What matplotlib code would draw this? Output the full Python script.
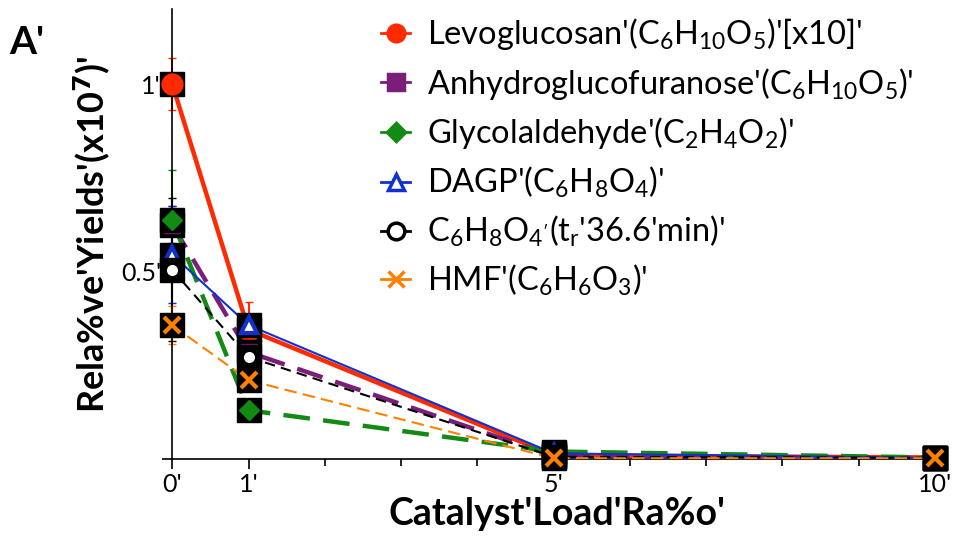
import numpy as np
import matplotlib.pyplot as plt
from matplotlib.lines import Line2D

plt.rcParams['font.family'] = ['Lato', 'DejaVu Sans']
plt.rcParams['mathtext.default'] = 'regular'

# catalyst loading ratio
x = [0, 1, 5, 10]

levo = [1.00, 0.345, 0.010, 0.004]
anhydro = [0.625, 0.285, 0.008, 0.004]
glyco = [0.637, 0.130, 0.020, 0.004]
dagp = [0.545, 0.357, 0.015, 0.003]
c6h8o4 = [0.505, 0.272, 0.006, 0.003]
hmf = [0.357, 0.210, 0.002, 0.002]

levo_err = [0.07, 0.075, 0.005, 0.004]
anhydro_err = [0.05, 0.02, 0.004, 0.002]
glyco_err = [0.135, 0.02, 0.005, 0.002]
dagp_err = [0.13, 0.02, 0.004, 0.002]
c6h8o4_err = [0.19, 0.02, 0.004, 0.002]
hmf_err = [0.05, 0.02, 0.003, 0.002]

labels = ["Levoglucosan'(C$_6$H$_{10}$O$_5$)'[x10]'",
          "Anhydroglucofuranose'(C$_6$H$_{10}$O$_5$)'",
          "Glycolaldehyde'(C$_2$H$_4$O$_2$)'",
          "DAGP'(C$_6$H$_8$O$_4$)'",
          "C$_6$H$_8$O$_{4'}$(t$_r$'36.6'min)'",
          "HMF'(C$_6$H$_6$O$_3$)'"]

series = [
    (levo, levo_err, '#FF2A00', '-', 3.2, 'o', '#FF2A00', 15),
    (anhydro, anhydro_err, '#7B1E7A', (0, (6, 3)), 3.2, 's', '#7B1E7A', 11),
    (glyco, glyco_err, '#138A13', (0, (6, 3)), 3.2, 'D', '#138A13', 10),
    (dagp, dagp_err, '#1030D0', '-', 1.5, '^', 'white', 12),
    (c6h8o4, c6h8o4_err, 'black', (0, (5, 3)), 1.5, 'o', 'white', 11),
    (hmf, hmf_err, '#FF8000', (0, (6, 3)), 1.5, 'x', '#FF8000', 12),
]

fig = plt.figure(figsize=(9.57, 5.4), dpi=100)
ax = fig.add_axes([0.18, 0.15, 0.805, 0.833])

handles = []
for i, (y, e, c, ls, lw, m, fc, ms) in enumerate(series):
    ax.errorbar(x, y, yerr=e, color=c, ls='none', elinewidth=1.5, capsize=3, zorder=2,
                clip_on=False)
    ax.plot(x, y, color=c, ls=ls, lw=lw, zorder=3 + i * 0.01)
    ax.plot(x, y, ls='none', marker='s', ms=17, color='black', zorder=5 + i * 0.1, clip_on=False)
    ax.plot(x, y, ls='none', marker=m, ms=ms, mfc=fc, mec=c,
            mew=3 if (m in ('^', 'o') and fc == 'white') or m == 'x' else 1,
            zorder=5.05 + i * 0.1, clip_on=False)
    handles.append(Line2D([], [], color=c, lw=2, marker=m, ms=12 if m != 'D' else 9,
                          mfc=fc, mec=c, mew=2.5))

ax.set_xlim(0, 10.1)
ax.set_ylim(0, 1.2)
ax.set_xticks([0, 1, 5, 10])
ax.set_xticklabels(["0'", "1'", "5'", "10'"], fontsize=18)
ax.set_xticks([2, 3, 4, 6, 7, 8, 9], minor=True)
ax.set_yticks([0, 0.5, 1])
ax.set_yticklabels(["", "0.5'", "1'"], fontsize=18)
ax.tick_params(axis='x', which='major', direction='out', length=7, width=1.2, pad=3)
ax.tick_params(axis='x', which='minor', direction='out', length=5, width=1.2)
ax.tick_params(axis='y', direction='out', length=7, width=1.2, pad=1)
ax.spines['top'].set_visible(False)
ax.spines['right'].set_visible(False)
ax.spines['left'].set_linewidth(1.2)
ax.spines['bottom'].set_linewidth(1.2)

ax.set_xlabel("Catalyst'Load'Ra%o'", fontsize=27, fontweight='bold', labelpad=1)
ax.set_ylabel("Rela%ve'Yields'(x10$^{\\mathbf{7}}$)'", fontsize=26, fontweight='bold', labelpad=6)

fig.text(0.01, 0.9, "A'", fontsize=28, fontweight='bold')

ax.legend(handles, labels, loc='upper right', bbox_to_anchor=(1.0, 1.05), frameon=False,
          fontsize=23.5, handlelength=0.9, handletextpad=0.5, labelspacing=0.42)

fig.savefig('out.png', dpi=100)
